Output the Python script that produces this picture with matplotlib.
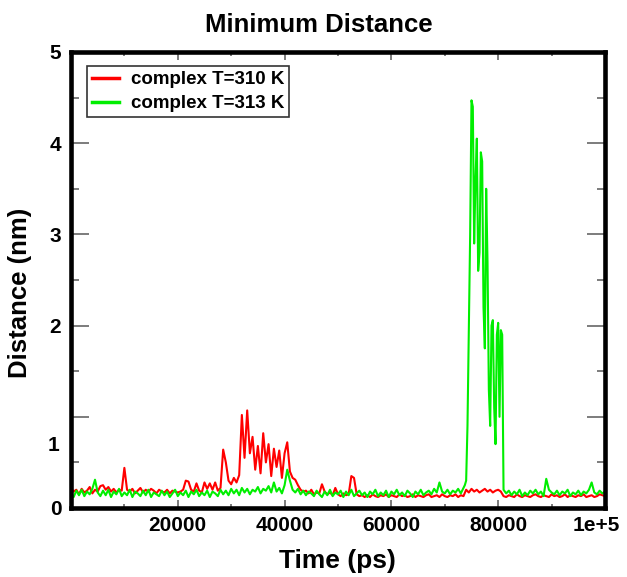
import numpy as np
import matplotlib
matplotlib.use('Agg')
import matplotlib.pyplot as plt
from matplotlib.transforms import ScaledTranslation

plt.rcParams['font.family'] = ['Liberation Sans', 'DejaVu Sans']
plt.rcParams['font.weight'] = 'bold'

# time axis of the trajectory (ps), one frame read every 500 ps
time_310 = np.arange(0, 100001, 500)
# the 313 K run is read more finely around the unbinding event
time_313 = np.concatenate([np.arange(0, 73500, 500),
                           np.arange(73500, 81000, 250),
                           np.arange(81000, 100001, 500)])

# minimum distance (nm), complex at 310 K
dist_310 = [
    0.22, 0.18, 0.20, 0.15, 0.21, 0.17, 0.19, 0.23, 0.16, 0.20, 0.18,
    0.24, 0.25, 0.20, 0.23, 0.18, 0.21, 0.17, 0.20, 0.19, 0.44,
    0.20, 0.18, 0.21, 0.16, 0.19, 0.22, 0.17, 0.20, 0.18, 0.21,
    0.19, 0.16, 0.20, 0.18, 0.17, 0.20, 0.16, 0.19, 0.18, 0.17,
    0.18, 0.20, 0.30, 0.29, 0.20, 0.18, 0.27, 0.19, 0.17, 0.28,
    0.21, 0.27, 0.20, 0.28, 0.19, 0.22, 0.64, 0.50, 0.30, 0.26,
    0.33, 0.28, 0.36, 1.02, 0.55, 1.07, 0.60, 0.78, 0.42, 0.68,
    0.38, 0.82, 0.50, 0.70, 0.35, 0.65, 0.45, 0.63, 0.33, 0.60,
    0.72, 0.40, 0.33, 0.31, 0.25, 0.20, 0.18, 0.19, 0.16, 0.20,
    0.15, 0.17, 0.16, 0.26, 0.18, 0.15, 0.17, 0.14, 0.22, 0.15,
    0.13, 0.16, 0.14, 0.15, 0.35, 0.33, 0.15, 0.13, 0.14, 0.12,
    0.14, 0.12, 0.15, 0.13, 0.12, 0.14, 0.13, 0.15, 0.12, 0.14,
    0.13, 0.12, 0.15, 0.13, 0.14, 0.12, 0.13, 0.15, 0.12, 0.14,
    0.13, 0.12, 0.14, 0.15, 0.12, 0.13, 0.14, 0.12, 0.15, 0.13,
    0.12, 0.14, 0.13, 0.15, 0.12, 0.14, 0.13, 0.20, 0.17, 0.21,
    0.18, 0.20, 0.17, 0.19, 0.21, 0.18, 0.20, 0.17, 0.19, 0.20,
    0.18, 0.13, 0.12, 0.14, 0.13, 0.12, 0.15, 0.13, 0.12, 0.14,
    0.13, 0.12, 0.14, 0.15, 0.13, 0.12, 0.14, 0.13, 0.12, 0.15,
    0.13, 0.14, 0.12, 0.13, 0.15, 0.12, 0.14, 0.13, 0.12, 0.14,
    0.13, 0.15, 0.12, 0.13, 0.14, 0.12, 0.13, 0.15, 0.14, 0.13,
]

# minimum distance (nm), complex at 313 K
dist_313 = [
    0.16, 0.12, 0.19, 0.14, 0.20, 0.13, 0.18, 0.15, 0.21, 0.31, 0.17,
    0.13, 0.19, 0.14, 0.20, 0.12, 0.18, 0.15, 0.21, 0.13, 0.17,
    0.14, 0.20, 0.12, 0.18, 0.16, 0.13, 0.19, 0.14, 0.20, 0.12,
    0.17, 0.15, 0.13, 0.19, 0.14, 0.18, 0.12, 0.16, 0.20, 0.13,
    0.17, 0.14, 0.19, 0.12, 0.18, 0.15, 0.20, 0.13, 0.17, 0.14,
    0.19, 0.12, 0.18, 0.16, 0.13, 0.20, 0.15, 0.19, 0.14, 0.21,
    0.16, 0.20, 0.14, 0.22, 0.17, 0.21, 0.15, 0.20, 0.18, 0.23,
    0.16, 0.21, 0.19, 0.24, 0.17, 0.28, 0.18, 0.22, 0.16, 0.25,
    0.42, 0.30, 0.20, 0.17, 0.21, 0.15, 0.19, 0.14, 0.18, 0.16,
    0.13, 0.19, 0.15, 0.12, 0.18, 0.14, 0.20, 0.13, 0.17, 0.15,
    0.19, 0.12, 0.18, 0.14, 0.20, 0.13, 0.16, 0.19, 0.14, 0.17,
    0.12, 0.18, 0.15, 0.20, 0.13, 0.17, 0.14, 0.19, 0.12, 0.18,
    0.15, 0.20, 0.14, 0.17, 0.13, 0.19, 0.16, 0.12, 0.18, 0.15,
    0.20, 0.14, 0.17, 0.19, 0.15, 0.21, 0.17, 0.28, 0.18, 0.16,
    0.20, 0.15, 0.19, 0.17, 0.21, 0.16,
    # 73500 - 80750 ps, every 250 ps
    0.22, 0.25, 0.30, 0.90, 1.95, 3.00, 4.47, 4.40, 2.90, 3.60,
    4.05, 2.60, 2.80, 3.90, 3.80, 2.20, 1.75, 3.50, 2.70, 1.30,
    0.90, 2.00, 2.06, 1.10, 0.70, 1.90, 2.03, 1.00, 1.95, 1.90,
    # 81000 ps onwards
    0.20, 0.16, 0.19, 0.14, 0.18, 0.15, 0.20, 0.13, 0.17,
    0.14, 0.19, 0.16, 0.20, 0.15, 0.18, 0.13, 0.32, 0.20, 0.17,
    0.15, 0.19, 0.14, 0.18, 0.16, 0.20, 0.13, 0.17, 0.15, 0.19,
    0.14, 0.18, 0.16, 0.20, 0.28, 0.17, 0.15, 0.19, 0.16, 0.18,
]

xtick_pos = [20000, 40000, 60000, 80000, 100000]
xtick_lab = ['20000', '40000', '60000', '80000', '1e+5']
ytick_pos = [0, 1, 2, 3, 4, 5]
ytick_lab = ['0', '', '2', '3', '4', '5']

fig = plt.figure(figsize=(6.27, 5.77), dpi=100)
ax = fig.add_axes([0.1132, 0.1196, 0.8517, 0.7903])

ax.plot(time_310, dist_310, color='#ff0000', lw=1.5, label='complex T=310 K')
ax.plot(time_313, dist_313, color='#00ee00', lw=1.5, label='complex T=313 K')

ax.set_xlim(0, 100000)
ax.set_ylim(0, 5)
ax.set_xticks(xtick_pos)
ax.set_xticklabels(xtick_lab)
ax.set_xticks(np.arange(0, 100001, 10000), minor=True)
ax.set_yticks(ytick_pos)
ax.set_yticklabels(ytick_lab)
ax.set_yticks(np.arange(0, 5.01, 0.5), minor=True)

ax.tick_params(axis='both', which='both', direction='in', top=True, right=True,
               color='#666666', width=1.2, labelsize=15)
ax.tick_params(axis='y', which='major', length=13, pad=7)
ax.tick_params(axis='y', which='minor', length=6)
ax.tick_params(axis='x', which='major', length=6, pad=6)
ax.tick_params(axis='x', which='minor', length=3)

# last x label sits a bit left of the spine
lab = ax.get_xticklabels()[-1]
lab.set_transform(lab.get_transform() + ScaledTranslation(-9 / 100, 0, fig.dpi_scale_trans))

# the "1" label is drawn below its tick in the original
ax.text(-0.021, 0.69, '1', transform=ax.get_yaxis_transform(), ha='right', va='center',
        fontsize=15, fontweight='bold')

for sp in ax.spines.values():
    sp.set_linewidth(3.3)

leg = ax.legend(loc='upper left', bbox_to_anchor=(0.03, 0.969), borderaxespad=0,
                fontsize=13.5, frameon=True, fancybox=False, handlelength=1.45,
                handletextpad=0.6, labelspacing=0.35, borderpad=0.28)
leg.get_frame().set_edgecolor('black')
leg.get_frame().set_linewidth(1.2)
for t in leg.get_texts():
    t.set_fontweight('bold')
for h in leg.get_lines():
    h.set_linewidth(2.5)

fig.text(0.508, 0.957, 'Minimum Distance', ha='center', va='center', fontsize=18.5, fontweight='bold')
fig.text(0.538, 0.028, 'Time (ps)', ha='center', va='center', fontsize=19, fontweight='bold')
fig.text(0.032, 0.492, 'Distance (nm)', ha='center', va='center', rotation=90,
         fontsize=18.5, fontweight='bold')

fig.savefig('out.png', dpi=100)
